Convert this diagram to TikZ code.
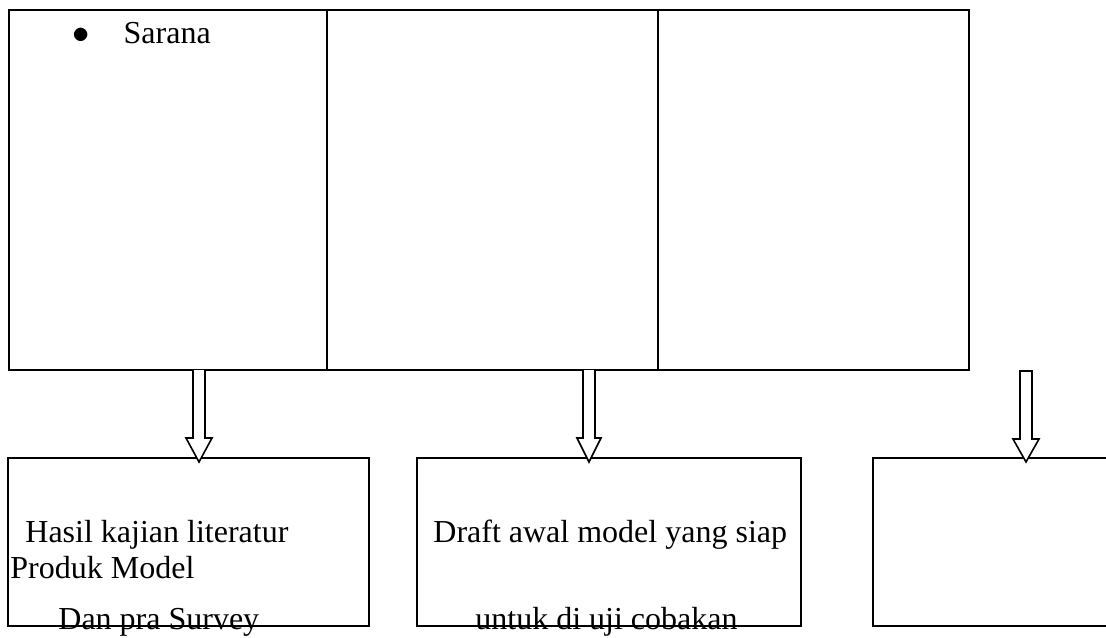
\documentclass[tikz,border=0pt]{standalone}
\usepackage{fontspec}
\setmainfont{Liberation Serif}

\begin{document}
\begin{tikzpicture}[x=0.5pt, y=-0.5pt,
    cell/.style={draw, line width=1.4pt, inner sep=0pt, outer sep=0pt, minimum height=180pt},
    outbox/.style={draw, line width=0.9pt, inner sep=0pt, outer sep=0pt, minimum height=84pt},
    txt/.style={anchor=base west, inner sep=0pt, font=\fontsize{16}{19}\selectfont},
    blockarrow/.style={draw, line width=0.8pt, fill=white, line join=miter}]
    \useasboundingbox (0,0) rectangle (1106,637);

    % Nodes
    \node[cell, minimum width=159pt] (cell1) at (168,190) {};
    \node[cell, minimum width=165.5pt] (cell2) at (492.5,190) {};
    \node[cell, minimum width=155.5pt] (cell3) at (813.5,190) {};

    \node[outbox, minimum width=180.5pt] (hasilbox) at (188.5,542) {};
    \node[outbox, minimum width=192pt] (draftbox) at (609,542) {};
    \node[outbox, minimum width=119.5pt] (lastbox) at (992.5,542) {};

    \node[txt] (sarana) at (72,43) {$\bullet$\hskip 17pt Sarana};
    \node[txt] (hasil) at (25,542) {Hasil kajian literatur};
    \node[txt] (produk) at (10,578) {Produk Model};
    \node[txt] (survey) at (58,629) {Dan pra Survey};
    \node[txt] (draft) at (433,542) {Draft awal model yang siap};
    \node[txt] (ujicoba) at (475,629) {untuk di uji cobakan};

    \coordinate (free3) at (1026,371);

    % Edges
    \draw[blockarrow] ([xshift=95pt]cell1.south west) ++(-6,0) -- ++(0,68) -- ++(-7,0) -- ++(13,24) -- ++(13,-24) -- ++(-7,0) -- ++(0,-68);
    \draw[blockarrow] ([xshift=131pt]cell2.south west) ++(-6,0) -- ++(0,68) -- ++(-6,0) -- ++(12,24) -- ++(12,-24) -- ++(-6,0) -- ++(0,-68);
    \draw[blockarrow] (free3) ++(-6,0) -- ++(0,68) -- ++(-7,0) -- ++(13,23) -- ++(13,-23) -- ++(-7,0) -- ++(0,-68) -- cycle;
\end{tikzpicture}
\end{document}
